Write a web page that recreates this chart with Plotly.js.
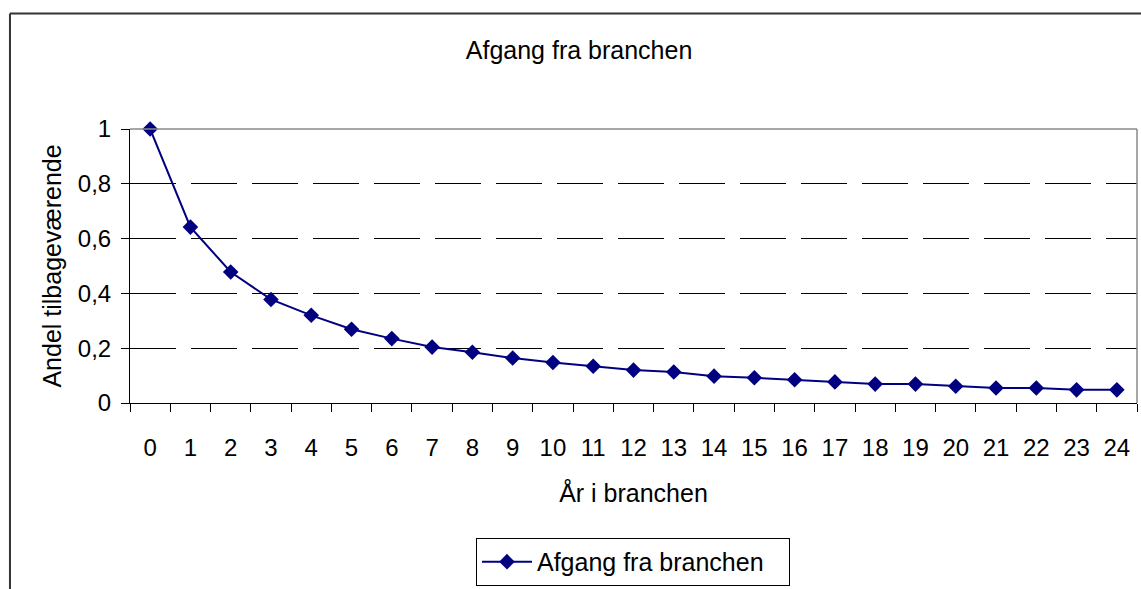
<!DOCTYPE html>
<html>
<head>
<meta charset="utf-8">
<script src="https://cdn.plot.ly/plotly-3.0.1.min.js"></script>
<style>html,body{margin:0;padding:0;background:#fff;}#chart{width:1141px;height:589px;}</style>
</head>
<body>
<div id="chart"></div>
<script>
var years = ["0","1","2","3","4","5","6","7","8","9","10","11","12","13","14","15","16","17","18","19","20","21","22","23","24"];
var remaining = [1.0,0.642,0.478,0.378,0.32,0.269,0.235,0.204,0.185,0.164,0.148,0.134,0.12,0.113,0.098,0.092,0.085,0.077,0.069,0.069,0.061,0.055,0.055,0.048,0.048];
var seriesName = "Afgang fra branchen";
var yTickVals = [0,0.2,0.4,0.6,0.8,1];
var yTickText = ["0","0,2","0,4","0,6","0,8","1"];

var FONT = "Liberation Sans, Arial, sans-serif";
var trace = {
  x: years, y: remaining, type: "scatter", mode: "lines+markers", name: seriesName,
  cliponaxis: false,
  line: {color: "#000080", width: 2},
  marker: {symbol: "diamond", size: 12, color: "#000080"}
};
var layout = {
  width: 1141, height: 589,
  margin: {l: 130, r: 4, t: 129, b: 185},
  paper_bgcolor: "#fff", plot_bgcolor: "#fff",
  font: {family: FONT, color: "#000", size: 24},
  separators: ",.",
  showlegend: true,
  title: {text: "Afgang fra branchen", font: {size: 25, family: FONT, color: "#000"},
          xref: "container", x: 0.5075, xanchor: "center", yref: "container", y: 0.915, yanchor: "middle"},
  xaxis: {
    type: "category", range: [-0.5, 24.5], tickson: "boundaries",
    ticks: "outside", ticklen: 8, tickcolor: "#000", tickwidth: 1,
    showline: true, linecolor: "#000", linewidth: 1, showgrid: false, zeroline: false,
    tickfont: {size: 24}, ticklabelstandoff: 23,
    title: {text: "År i branchen", font: {size: 25}, standoff: 24}
  },
  yaxis: {
    range: [0, 1], tickvals: yTickVals, ticktext: yTickText,
    ticks: "outside", ticklen: 8, tickcolor: "#000", tickwidth: 1,
    showline: true, linecolor: "#000", linewidth: 1, zeroline: false,
    showgrid: true, gridcolor: "#000", gridwidth: 1, griddash: "46px,15px",
    tickfont: {size: 24}, ticklabelstandoff: 5,
    title: {text: "Andel tilbageværende", font: {size: 25}, standoff: 9}
  },
  legend: {
    orientation: "h", xref: "paper", x: 0.4995, xanchor: "center", yref: "paper", y: -0.487, yanchor: "top",
    bordercolor: "#000", borderwidth: 1, bgcolor: "#fff", font: {size: 25}, itemwidth: 50,
    entrywidth: 247, entrywidthmode: "pixels"
  },
  shapes: [
    {type: "line", xref: "paper", yref: "paper", x0: 0, x1: 1, y0: 1, y1: 1, line: {color: "#888", width: 1.5}},
    {type: "line", xref: "paper", yref: "paper", x0: 1, x1: 1, y0: 0, y1: 1, line: {color: "#888", width: 1.5}},
    {type: "line", xref: "paper", yref: "paper", x0: -0.1192, x1: -0.1192, y0: -0.8, y1: 1.4218, line: {color: "#333", width: 2}},
    {type: "line", xref: "paper", yref: "paper", x0: -0.1192, x1: 1.05, y0: 1.4218, y1: 1.4218, line: {color: "#333", width: 2}}
  ]
};
Plotly.newPlot("chart", [trace], layout, {displayModeBar: false, staticPlot: true});
</script>
</body>
</html>
